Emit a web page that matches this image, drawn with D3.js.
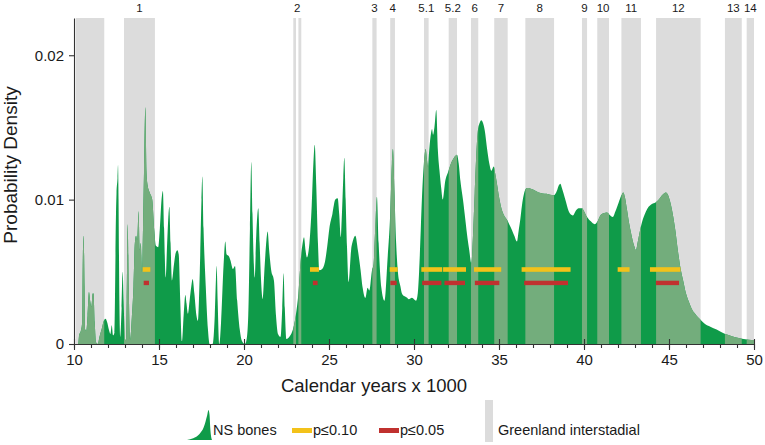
<!DOCTYPE html>
<html><head><meta charset="utf-8">
<script src="https://cdn.jsdelivr.net/npm/d3@7"></script>
<style>
body{margin:0;background:#fff}
text{font-family:"Liberation Sans",Arial,Helvetica,sans-serif;fill:#1a1a1a}
</style>
</head><body>
<svg id="chart" width="765" height="445"></svg>
<script>
// ---------- DATA ----------
// Summed probability density of NS bones (calendar years x 1000, density)
const densityYears = [10.00,10.25,10.30,10.40,10.48,10.52,10.57,10.62,10.66,10.72,10.80,10.88,10.95,11.02,11.10,11.15,11.22,11.30,11.40,11.50,11.62,11.75,11.86,11.95,12.05,12.14,12.22,12.30,12.38,12.47,12.50,12.56,12.59,12.62,12.67,12.72,12.80,12.86,12.92,13.00,13.06,13.10,13.16,13.22,13.30,13.40,13.50,13.58,13.65,13.72,13.80,13.86,13.93,14.00,14.06,14.12,14.20,14.26,14.33,14.45,14.60,14.72,14.82,14.95,15.05,15.15,15.23,15.30,15.39,15.48,15.56,15.61,15.68,15.76,15.88,15.98,16.08,16.16,16.25,16.35,16.45,16.55,16.62,16.70,16.80,16.90,16.98,17.08,17.20,17.29,17.40,17.50,17.55,17.62,17.75,17.88,17.98,18.15,18.28,18.35,18.39,18.45,18.55,18.65,18.80,18.90,18.98,19.10,19.20,19.35,19.47,19.60,19.75,19.88,20.05,20.15,20.25,20.35,20.43,20.50,20.58,20.63,20.72,20.84,20.92,21.00,21.10,21.22,21.32,21.39,21.48,21.60,21.76,21.88,22.00,22.15,22.25,22.33,22.40,22.49,22.73,22.92,23.05,23.20,23.35,23.45,23.53,23.62,23.70,23.85,23.98,24.08,24.16,24.25,24.35,24.43,24.60,24.78,24.90,25.02,25.20,25.37,25.51,25.60,25.69,25.76,25.84,25.90,25.98,26.06,26.16,26.30,26.42,26.55,26.70,26.85,26.98,27.14,27.27,27.38,27.53,27.62,27.72,27.82,27.92,28.08,28.27,28.45,28.60,28.70,28.76,28.85,28.95,29.06,29.20,29.29,29.45,29.60,29.69,29.88,30.12,30.22,30.30,30.40,30.47,30.58,30.69,30.76,30.82,30.90,31.00,31.06,31.12,31.20,31.31,31.40,31.50,31.60,31.69,31.84,32.00,32.14,32.35,32.53,32.63,32.73,32.88,33.02,33.15,33.25,33.37,33.47,33.57,33.66,33.76,33.86,33.96,34.06,34.16,34.30,34.43,34.55,34.69,34.78,34.88,35.00,35.14,35.30,35.47,35.60,35.76,35.90,36.06,36.15,36.25,36.35,36.45,36.55,36.65,37.00,37.33,37.80,38.22,38.40,38.52,38.61,38.70,38.90,39.10,39.25,39.35,39.50,39.69,39.88,40.00,40.18,40.40,40.63,40.80,40.96,41.15,41.35,41.50,41.69,41.85,42.04,42.20,42.31,42.42,42.53,42.68,42.82,42.95,43.06,43.15,43.25,43.38,43.51,43.65,43.80,44.00,44.20,44.40,44.59,44.72,44.82,44.95,45.08,45.22,45.37,45.52,45.67,45.85,46.00,46.18,46.35,46.60,46.84,47.10,47.43,47.80,48.12,48.50,48.90,49.30,49.69,50.00];
const densityValues = [0,0,0.0006,0.0009,0.0015,0.0060,0.0075,0.0040,0.0010,0.0009,0.0020,0.0036,0.0030,0.0026,0.0035,0.0035,0.0015,0.0001,0,0.0005,0.0010,0.0016,0.00175,0.0015,0.0010,0.0007,0.0013,0.0006,0.0008,0.0090,0.0104,0.0115,0.0124,0.0100,0.0030,0.0005,0.0025,0.0050,0.0030,0.0003,0.0003,0.0030,0.0083,0.0040,0.0003,0.0018,0.0040,0.0070,0.0075,0.0072,0.0092,0.0065,0.0070,0.0050,0.0080,0.0120,0.0164,0.0120,0.0110,0.0105,0.0100,0.0079,0.0068,0.0067,0.0080,0.0100,0.0106,0.0080,0.0046,0.0070,0.0090,0.0095,0.0070,0.0044,0.0055,0.0063,0.0065,0.0062,0.0030,0.0002,0.0020,0.0034,0.0028,0.0021,0.0030,0.0040,0.0045,0.0035,0.0020,0.0016,0.0050,0.0100,0.0116,0.0080,0.0040,0.0010,0,0,0.0020,0.0045,0.0054,0.0030,0,0.0015,0.0055,0.0071,0.0062,0.0061,0.0058,0.0052,0.0054,0.0030,0.0010,0.0002,0,0.0003,0.0020,0.0080,0.0126,0.0090,0.0055,0.0046,0.0075,0.0094,0.0070,0.0045,0.0031,0.0055,0.0072,0.0078,0.0065,0.0051,0.0044,0.0020,0.0007,0.0005,0.0025,0.0049,0.0025,0.00035,0.0006,0.0012,0.0020,0.0035,0.0060,0.0070,0.0074,0.0065,0.0060,0.0070,0.0095,0.0125,0.0138,0.0110,0.0070,0.0051,0.0052,0.0058,0.0068,0.0080,0.0090,0.0100,0.0101,0.0090,0.0074,0.0090,0.0115,0.0129,0.0100,0.0067,0.0043,0.0065,0.0072,0.0075,0.0065,0.0052,0.0039,0.0032,0.0039,0.0037,0.0051,0.0055,0.0080,0.0102,0.0070,0.0039,0.0030,0.0060,0.0090,0.0125,0.0135,0.0105,0.0070,0.0049,0.0040,0.0035,0.0033,0.0032,0.0031,0.0032,0.0030,0.0035,0.0050,0.0080,0.0102,0.0125,0.0135,0.0128,0.0123,0.0135,0.0146,0.0149,0.0145,0.0150,0.0162,0.0135,0.0120,0.0108,0.0100,0.0113,0.0119,0.0124,0.0129,0.0131,0.0125,0.0113,0.0100,0.0086,0.0073,0.0065,0.0056,0.0075,0.0104,0.0130,0.0148,0.0153,0.0155,0.0153,0.0148,0.0135,0.0125,0.0120,0.0123,0.0118,0.0111,0.0102,0.0094,0.0089,0.0086,0.0083,0.0079,0.0075,0.0071,0.0078,0.0086,0.0096,0.0103,0.0107,0.0108,0.0107,0.0105,0.0104,0.0103,0.0106,0.0110,0.0111,0.0108,0.0100,0.0092,0.00895,0.0089,0.0092,0.0094,0.0094,0.0092,0.0088,0.0085,0.0083,0.0085,0.0089,0.00905,0.0091,0.00895,0.0088,0.0092,0.0098,0.0103,0.0105,0.0101,0.0093,0.0082,0.0074,0.0068,0.0065,0.0070,0.0076,0.0083,0.0088,0.0092,0.0095,0.0097,0.0098,0.0100,0.0103,0.01045,0.0105,0.0103,0.0098,0.0090,0.0079,0.0065,0.0053,0.0043,0.0035,0.0029,0.0024,0.0020,0.0017,0.0014,0.0012,0.0010,0.0008,0.00062,0.00046,0.00037,0.0003,0.00028];

// Greenland interstadials (calendar years x 1000)
const giStart = [10.10,12.94,22.90,23.20,27.55,28.60,30.59,32.04,33.35,34.72,36.55,39.88,40.78,42.20,44.24,48.29,49.57];
const giEnd   = [11.78,14.76,23.06,23.37,27.80,28.88,30.86,32.53,33.78,35.51,38.24,40.18,41.47,43.35,46.86,49.28,50.00];
const giLabel = ["","1","2","2","3","4","5.1","5.2","6","7","8","9","10","11","12","13","14"];

// Significant intervals
const p10Start = [14.04,23.88,28.57,30.43,31.71,33.53,36.33,41.98,43.88];
const p10End   = [14.49,24.41,29.04,31.66,33.06,35.13,39.21,42.68,45.67];
const p05Start = [14.10,24.05,28.61,30.48,31.79,33.58,36.48,44.23];
const p05End   = [14.41,24.33,28.98,31.61,33.00,35.02,39.06,45.59];

const xTicksMajor = [10,15,20,25,30,35,40,45,50];
const xTicksMinor = d3.range(10,51,1);
const yTicks = [0,0.01,0.02];

// ---------- STYLE ----------
const green = "#0f9b49", greenMuted = "#73ad7c", gray = "#dcdcdc";
const yellow = "#f3c21a", red = "#c0312f";

const svg = d3.select("#chart");
const x = d3.scaleLinear().domain([10,50]).range([74,754]);
const y = d3.scaleLinear().domain([0,0.02258]).range([344,18]);

const bands = giStart.map((s,i)=>({s, e:giEnd[i], g:giLabel[i]}));
const curve = densityYears.map((t,i)=>[t, densityValues[i]]);

// bands
svg.append("g").selectAll("rect").data(bands).join("rect")
  .attr("x", d=>x(d.s)).attr("width", d=>x(d.e)-x(d.s))
  .attr("y", y.range()[1]).attr("height", y.range()[0]-y.range()[1])
  .attr("fill", gray);

// clip for bands
const clip = svg.append("defs").append("clipPath").attr("id","giclip");
clip.selectAll("rect").data(bands).join("rect")
  .attr("x", d=>x(d.s)).attr("width", d=>x(d.e)-x(d.s))
  .attr("y", 0).attr("height", 400);

const area = d3.area().x(d=>x(d[0])).y0(y(0)).y1(d=>y(d[1])).curve(d3.curveMonotoneX);
svg.append("path").datum(curve).attr("d", area).attr("fill", green);
svg.append("path").datum(curve).attr("d", area).attr("fill", greenMuted).attr("clip-path","url(#giclip)");

// significance bars
const p10 = p10Start.map((s,i)=>({s, e:p10End[i]}));
const p05 = p05Start.map((s,i)=>({s, e:p05End[i]}));
svg.append("g").selectAll("rect").data(p10).join("rect")
  .attr("x", d=>x(d.s)).attr("width", d=>x(d.e)-x(d.s))
  .attr("y", y(0.00516)-2.3).attr("height", 4.6).attr("fill", yellow);
svg.append("g").selectAll("rect").data(p05).join("rect")
  .attr("x", d=>x(d.s)).attr("width", d=>x(d.e)-x(d.s))
  .attr("y", y(0.00423)-2.2).attr("height", 4.4).attr("fill", red);

// GI labels
const groups = d3.rollups(bands.filter(b=>b.g!==""), v=>(d3.min(v,b=>b.s)+d3.max(v,b=>b.e))/2, b=>b.g);
svg.append("g").selectAll("text").data(groups).join("text")
  .attr("x", d=>x(d[1])).attr("y", 12).attr("text-anchor","middle")
  .style("font-size","11.5px").text(d=>d[0]);

// axes
const axisColor = "#333";
const gxMinor = svg.append("g").attr("transform",`translate(0,${y(0)})`)
  .call(d3.axisBottom(x).tickValues(xTicksMinor).tickSize(4).tickSizeOuter(0).tickFormat(""));
const gxMajor = svg.append("g").attr("transform",`translate(0,${y(0)})`)
  .call(d3.axisBottom(x).tickValues(xTicksMajor).tickSize(6).tickPadding(4).tickSizeOuter(0));
const gxUp = svg.append("g").attr("transform",`translate(0,${y(0)})`)
  .call(d3.axisBottom(x).tickValues(xTicksMajor).tickSize(-5).tickSizeOuter(0).tickFormat(""));
const gy = svg.append("g").attr("transform",`translate(${x(10)},0)`)
  .call(d3.axisLeft(y).tickValues(yTicks).tickSize(5).tickPadding(5).tickSizeOuter(0)
    .tickFormat(d=> d===0 ? "0" : d3.format(".2f")(d)));
[gxMinor,gxMajor,gxUp,gy].forEach(g=>{
  g.selectAll("path.domain").attr("stroke", axisColor).attr("stroke-width",1.1);
  g.selectAll(".tick line").attr("stroke", axisColor).attr("stroke-width",1.1);
  g.selectAll("text").style("font-size","15px").style("font-family",'"Liberation Sans",Arial,sans-serif').attr("fill","#1a1a1a");
});
gxUp.select("path.domain").remove();
gxMajor.select("path.domain").remove();

// axis titles
svg.append("text").attr("x", 374).attr("y", 392).attr("text-anchor","middle")
  .style("font-size","18.5px").text("Calendar years x 1000");
svg.append("text").attr("transform","translate(17,165) rotate(-90)").attr("text-anchor","middle")
  .style("font-size","19px").text("Probability Density");

// legend
const lg = svg.append("g");
const iconShape = [[0,0],[0.25,0.06],[0.5,0.2],[0.68,0.45],[0.8,0.8],[0.86,1],[0.9,0.85],[0.93,0.4],[1,0]];
const ix = d3.scaleLinear().domain([0,1]).range([187,212]);
const iy = d3.scaleLinear().domain([0,1]).range([440,410]);
lg.append("path").datum(iconShape)
  .attr("d", d3.area().x(d=>ix(d[0])).y0(iy(0)).y1(d=>iy(d[1])).curve(d3.curveMonotoneX))
  .attr("fill", green);
lg.append("text").attr("x",213).attr("y",435).style("font-size","14.5px").text("NS bones");
lg.append("rect").attr("x",292).attr("y",428).attr("width",20).attr("height",5).attr("fill",yellow);
lg.append("text").attr("x",313).attr("y",435).style("font-size","14.5px").text("p≤0.10");
lg.append("rect").attr("x",379).attr("y",428).attr("width",20).attr("height",5).attr("fill",red);
lg.append("text").attr("x",400).attr("y",435).style("font-size","14.5px").text("p≤0.05");
lg.append("rect").attr("x",485).attr("y",400).attr("width",8).attr("height",42).attr("fill",gray);
lg.append("text").attr("x",498).attr("y",435).style("font-size","14.5px").text("Greenland interstadial");
</script>
</body></html>
